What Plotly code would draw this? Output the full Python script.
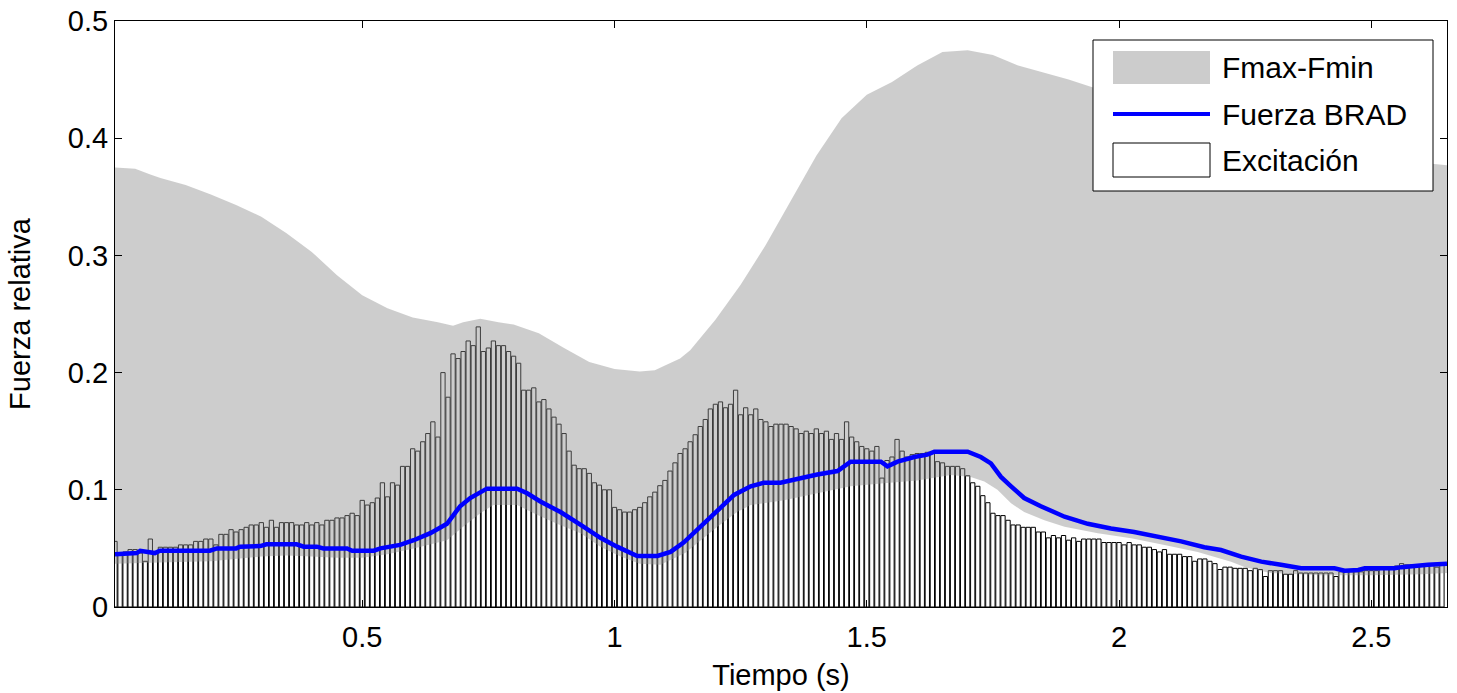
import numpy as np
import plotly.graph_objects as go

# ---------------- data ----------------
# Excitation bars, one per 0.01 s sample (t = 0.01 ... 2.64 s)
tiempo = np.round(np.arange(1, 265) * 0.01, 2)
excitacion = [
    0.056, 0.045, 0.047, 0.049, 0.049, 0.046, 0.039, 0.058, 0.046, 0.051,
    0.051, 0.051, 0.051, 0.053, 0.053, 0.053, 0.056, 0.056, 0.058, 0.058,
    0.053, 0.062, 0.062, 0.066, 0.064, 0.066, 0.068, 0.070, 0.070, 0.072,
    0.068, 0.074, 0.068, 0.072, 0.072, 0.072, 0.070, 0.070, 0.072, 0.070,
    0.072, 0.070, 0.074, 0.074, 0.076, 0.076, 0.078, 0.080, 0.078, 0.091,
    0.087, 0.089, 0.093, 0.106, 0.094, 0.106, 0.104, 0.120, 0.120, 0.135,
    0.133, 0.141, 0.148, 0.158, 0.145, 0.200, 0.179, 0.216, 0.212, 0.218,
    0.227, 0.223, 0.239, 0.218, 0.221, 0.227, 0.223, 0.223, 0.218, 0.214,
    0.208, 0.185, 0.185, 0.187, 0.175, 0.177, 0.169, 0.162, 0.156, 0.148,
    0.133, 0.121, 0.118, 0.118, 0.114, 0.106, 0.104, 0.100, 0.100, 0.085,
    0.083, 0.081, 0.081, 0.083, 0.085, 0.089, 0.094, 0.098, 0.1035, 0.108,
    0.116, 0.123, 0.131, 0.135, 0.141, 0.147, 0.154, 0.160, 0.169, 0.173,
    0.175, 0.170, 0.173, 0.185, 0.164, 0.170, 0.164, 0.169, 0.160, 0.158,
    0.154, 0.156, 0.156, 0.156, 0.154, 0.152, 0.148, 0.150, 0.148, 0.152,
    0.148, 0.150, 0.143, 0.148, 0.143, 0.158, 0.145, 0.141, 0.137, 0.135,
    0.133, 0.137, 0.110, 0.125, 0.128, 0.143, 0.133, 0.128, 0.130, 0.131,
    0.131, 0.132, 0.131, 0.124, 0.123, 0.120, 0.120, 0.120, 0.118, 0.112,
    0.106, 0.103, 0.095, 0.089, 0.080, 0.078, 0.078, 0.074, 0.070, 0.070,
    0.068, 0.068, 0.068, 0.064, 0.064, 0.059, 0.061, 0.059, 0.061, 0.057,
    0.059, 0.056, 0.058, 0.058, 0.058, 0.058, 0.055, 0.055, 0.055, 0.055,
    0.053, 0.055, 0.053, 0.053, 0.051, 0.051, 0.049, 0.047, 0.049, 0.045,
    0.045, 0.045, 0.043, 0.043, 0.039, 0.041, 0.041, 0.039, 0.037, 0.032,
    0.034, 0.034, 0.033, 0.033, 0.033, 0.031, 0.033, 0.032, 0.026, 0.031,
    0.031, 0.031, 0.028, 0.028, 0.031, 0.029, 0.029, 0.029, 0.029, 0.029,
    0.029, 0.029, 0.026, 0.030, 0.030, 0.030, 0.030, 0.030, 0.031, 0.031,
    0.031, 0.032, 0.032, 0.033, 0.035, 0.037, 0.036, 0.036, 0.036, 0.036,
    0.037, 0.037, 0.034, 0.037,
]

# Fuerza BRAD (blue line)
tiempo_brad = [0.01, 0.053, 0.06, 0.089, 0.099, 0.198, 0.212, 0.25, 0.258, 0.298,
               0.31, 0.37, 0.384, 0.41, 0.423, 0.47, 0.48, 0.523, 0.536, 0.575,
               0.602, 0.635, 0.668, 0.694, 0.714, 0.747, 0.807, 0.827, 0.853, 0.893,
               0.933, 0.972, 1.005, 1.045, 1.085, 1.111, 1.137, 1.17, 1.204, 1.237,
               1.27, 1.296, 1.329, 1.369, 1.402, 1.442, 1.468, 1.528, 1.541, 1.561,
               1.594, 1.62, 1.634, 1.7, 1.726, 1.746, 1.766, 1.786, 1.812, 1.845,
               1.892, 1.938, 1.984, 2.03, 2.077, 2.123, 2.169, 2.202, 2.242, 2.282,
               2.321, 2.361, 2.427, 2.447, 2.474, 2.487, 2.546, 2.56, 2.612, 2.65]
fuerza_brad = [0.045, 0.046, 0.048, 0.046, 0.048, 0.048, 0.050, 0.050, 0.0515, 0.052,
               0.0535, 0.0535, 0.0515, 0.0515, 0.050, 0.050, 0.048, 0.048, 0.050, 0.053,
               0.057, 0.063, 0.071, 0.086, 0.093, 0.101, 0.101, 0.097, 0.090, 0.081,
               0.070, 0.059, 0.0515, 0.0435, 0.0435, 0.047, 0.055, 0.0685, 0.083, 0.0956,
               0.103, 0.106, 0.106, 0.110, 0.113, 0.116, 0.124, 0.124, 0.120, 0.124,
               0.128, 0.130, 0.1325, 0.1325, 0.128, 0.1226, 0.111, 0.103, 0.093, 0.086,
               0.077, 0.071, 0.067, 0.064, 0.060, 0.056, 0.051, 0.0486, 0.043, 0.0387,
               0.036, 0.033, 0.033, 0.031, 0.0316, 0.033, 0.033, 0.034, 0.036, 0.037]

# Fmax (upper edge of the grey band)
tiempo_fmax = [0.01, 0.05, 0.08, 0.1, 0.15, 0.2, 0.25, 0.3, 0.35, 0.4,
               0.45, 0.5, 0.55, 0.6, 0.65, 0.68, 0.7, 0.734, 0.77, 0.8,
               0.85, 0.9, 0.95, 1.0, 1.05, 1.08, 1.1, 1.13, 1.15, 1.2,
               1.25, 1.3, 1.35, 1.4, 1.45, 1.5, 1.55, 1.6, 1.65, 1.7,
               1.75, 1.8, 1.85, 1.9, 1.95, 2.0, 2.1, 2.2, 2.3, 2.4,
               2.5, 2.6, 2.65]
fmax = [0.375, 0.374, 0.369, 0.366, 0.360, 0.352, 0.343, 0.333, 0.319, 0.303,
        0.283, 0.266, 0.255, 0.247, 0.243, 0.240, 0.243, 0.246, 0.243, 0.241,
        0.2335, 0.221, 0.209, 0.203, 0.201, 0.202, 0.206, 0.212, 0.219, 0.245,
        0.275, 0.309, 0.347, 0.385, 0.417, 0.437, 0.448, 0.462, 0.4735, 0.475,
        0.471, 0.462, 0.456, 0.450, 0.443, 0.436, 0.425, 0.412, 0.402, 0.393,
        0.386, 0.379, 0.377]

# Fmin (lower edge of the grey band)
tiempo_fmin = [0.01, 0.1, 0.2, 0.3, 0.35, 0.4, 0.45, 0.5, 0.55, 0.602,
               0.668, 0.70, 0.734, 0.76, 0.807, 0.84, 0.886, 0.933, 0.972, 1.012,
               1.05, 1.091, 1.14, 1.204, 1.243, 1.27, 1.336, 1.402, 1.468, 1.534,
               1.6, 1.667, 1.706, 1.733, 1.759, 1.786, 1.812, 1.852, 1.892, 1.958,
               2.024, 2.09, 2.156, 2.222, 2.25, 2.3, 2.4, 2.5, 2.6, 2.65]
fmin = [0.037, 0.038, 0.039, 0.043, 0.044, 0.043, 0.042, 0.042, 0.045, 0.050,
        0.057, 0.0685, 0.080, 0.087, 0.087, 0.080, 0.071, 0.063, 0.0515, 0.043,
        0.037, 0.036, 0.046, 0.0685, 0.081, 0.087, 0.091, 0.097, 0.103, 0.1055,
        0.108, 0.1126, 0.111, 0.107, 0.100, 0.0885, 0.081, 0.074, 0.0685, 0.063,
        0.0586, 0.053, 0.047, 0.0387, 0.034, 0.029, 0.027, 0.027, 0.028, 0.029]

x_ticks = [0.5, 1, 1.5, 2, 2.5]
x_ticklabels = ["0.5", "1", "1.5", "2", "2.5"]
y_ticks = [0, 0.1, 0.2, 0.3, 0.4, 0.5]
y_ticklabels = ["0", "0.1", "0.2", "0.3", "0.4", "0.5"]

# ---------------- figure ----------------
FONT = "Liberation Sans, Arial, sans-serif"
FS = 29
W, H = 1457, 693
ML, MR, MT, MB = 115, 10, 21, 86
PW, PH = W - ML - MR, H - MT - MB

fig = go.Figure()

fig.add_trace(go.Bar(
    x=tiempo, y=excitacion, width=0.0085, name="Excitación",
    marker=dict(color="white", line=dict(color="black", width=1)),
    showlegend=False,
))

band_x = list(tiempo_fmax) + list(tiempo_fmin[::-1])
band_y = list(fmax) + list(fmin[::-1])
fig.add_trace(go.Scatter(
    x=band_x, y=band_y, fill="toself", mode="none",
    fillcolor="rgba(140,140,140,0.43)", name="Fmax-Fmin", showlegend=False,
))

fig.add_trace(go.Scatter(
    x=tiempo_brad, y=fuerza_brad, mode="lines", name="Fuerza BRAD",
    line=dict(color="#0000ff", width=4.5), showlegend=False,
))

# ---- manual legend (MATLAB style) ----
def px(x):
    return (x - ML) / PW

def py(y):
    return (H - MB - y) / PH

shapes = []
shapes.append(dict(type="rect", xref="paper", yref="paper", layer="above",
                   x0=px(1093), x1=px(1433), y0=py(191), y1=py(40),
                   fillcolor="white", line=dict(color="black", width=1)))
shapes.append(dict(type="rect", xref="paper", yref="paper", layer="above",
                   x0=px(1113), x1=px(1210), y0=py(84), y1=py(51),
                   fillcolor="#cccccc", line=dict(width=0)))
shapes.append(dict(type="line", xref="paper", yref="paper", layer="above",
                   x0=px(1113), x1=px(1210), y0=py(114), y1=py(114),
                   line=dict(color="#0000ff", width=4)))
shapes.append(dict(type="rect", xref="paper", yref="paper", layer="above",
                   x0=px(1113), x1=px(1210), y0=py(177), y1=py(143),
                   fillcolor="white", line=dict(color="black", width=1)))

annotations = []
for label, yc in [("Fmax-Fmin", 68), ("Fuerza BRAD", 114), ("Excitación", 160)]:
    annotations.append(dict(text=label, xref="paper", yref="paper",
                            x=px(1220), y=py(yc), xanchor="left", yanchor="middle",
                            showarrow=False, font=dict(family=FONT, size=30, color="black")))

fig.update_layout(
    width=W, height=H,
    margin=dict(l=ML, r=MR, t=MT, b=MB),
    plot_bgcolor="white", paper_bgcolor="white",
    font=dict(family=FONT, size=FS, color="black"),
    barmode="overlay",
    shapes=shapes, annotations=annotations,
    showlegend=False,
)
fig.update_xaxes(
    range=[0.01, 2.65], tickvals=x_ticks, ticktext=x_ticklabels,
    ticks="inside", ticklen=7, tickcolor="black", showline=True, linecolor="black",
    linewidth=1, mirror="ticks", showgrid=False, zeroline=False, automargin=False,
    title=dict(text="Tiempo (s)", standoff=12, font=dict(size=FS)),
    tickfont=dict(size=FS), ticklabelstandoff=4,
)
fig.update_yaxes(
    range=[0, 0.5], tickvals=y_ticks, ticktext=y_ticklabels,
    ticks="inside", ticklen=7, tickcolor="black", showline=True, linecolor="black",
    linewidth=1, mirror="ticks", showgrid=False, zeroline=False, automargin=False,
    title=dict(text="Fuerza relativa", standoff=28, font=dict(size=FS)),
    tickfont=dict(size=FS),
)

fig.write_html("out.html")
